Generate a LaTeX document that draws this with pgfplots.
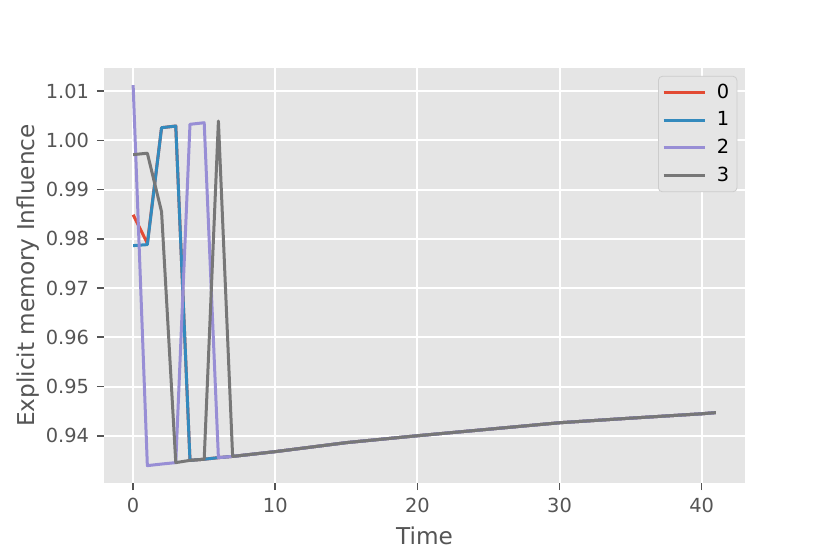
\documentclass[border=0pt]{standalone}
\usepackage{fontspec}
\setmainfont{DejaVu Sans}
\usepackage{pgfplots}
\pgfplotsset{compat=1.18}
\definecolor{ggbg}{HTML}{E5E5E5}
\definecolor{ggred}{HTML}{E24A33}
\definecolor{ggblue}{HTML}{348ABD}
\definecolor{ggpurple}{HTML}{988ED5}
\definecolor{gggrey}{HTML}{777777}
\definecolor{ggtext}{HTML}{555555}
\definecolor{ggedge}{HTML}{CCCCCC}
\begin{document}
\begin{tikzpicture}
\path[use as bounding box] (-52bp,-35.5bp) rectangle (363bp,241.5bp);
\begin{axis}[
  at={(0,0)}, anchor=south west,
  scale only axis, width=320.5bp, height=207.5bp,
  xmin=-2.05, xmax=43.05, ymin=0.9304, ymax=1.0147,
  axis background/.style={fill=ggbg},
  axis line style={draw=none},
  grid=major, major grid style={white, line width=1bp},
  tick align=outside, tick pos=left,
  major tick length=3.5bp,
  tick style={ggtext, line width=0.8bp},
  xtick={0,10,20,30,40},
  ytick={0.94,0.95,0.96,0.97,0.98,0.99,1.00,1.01},
  yticklabel style={xshift=-0.5bp, /pgf/number format/.cd, fixed, fixed zerofill, precision=2},
  /pgf/number format/assume math mode=true,
  ticklabel style={font=\fontsize{9.7bp}{11bp}\selectfont, text=ggtext},
  xticklabel style={yshift=-0.5bp},
  xlabel={Time}, ylabel={Explicit memory Influence},
  label style={font=\fontsize{11.6bp}{13bp}\selectfont, text=ggtext},
  xlabel style={at={(rel axis cs:0.5,0)}, anchor=north, yshift=-18.5bp},
  ylabel style={at={(rel axis cs:0,0.5)}, anchor=south, yshift=29bp},
  legend style={at={(rel axis cs:0.988,0.981)}, anchor=north east,
    fill=ggbg, draw=ggedge, rounded corners=2bp,
    font=\fontsize{9.7bp}{11bp}\selectfont, text=black,
    row sep=1.2bp, column sep=3.5bp, inner sep=1.8bp},
  legend cell align=left,
  legend image code/.code={\draw[#1] (0bp,0bp) -- (20.5bp,0bp);},
  every axis plot/.append style={line width=1.5bp, line join=round},
]
\addplot[ggred] coordinates {(0,0.98489)(1,0.97908)(2,1.00257)(3,1.00291)(4,0.93500)(5,0.93523)(6,0.93555)(7,0.93580)(10,0.93677)(15,0.93860)(20,0.94000)(25,0.94132)(30,0.94264)(35,0.94357)(40,0.94446)(41,0.94470)};
\addlegendentry{0}
\addplot[ggblue] coordinates {(0,0.97862)(1,0.97882)(2,1.00257)(3,1.00291)(4,0.93500)(5,0.93523)(6,0.93555)(7,0.93580)(10,0.93677)(15,0.93860)(20,0.94000)(25,0.94132)(30,0.94264)(35,0.94357)(40,0.94446)(41,0.94470)};
\addlegendentry{1}
\addplot[ggpurple] coordinates {(0,1.01121)(1,0.93393)(2,0.93425)(3,0.93454)(4,1.00326)(5,1.00358)(6,0.93555)(7,0.93580)(10,0.93677)(15,0.93860)(20,0.94000)(25,0.94132)(30,0.94264)(35,0.94357)(40,0.94446)(41,0.94470)};
\addlegendentry{2}
\addplot[gggrey] coordinates {(0,0.99710)(1,0.99739)(2,0.98550)(3,0.93454)(4,0.93500)(5,0.93523)(6,1.00393)(7,0.93580)(10,0.93677)(15,0.93860)(20,0.94000)(25,0.94132)(30,0.94264)(35,0.94357)(40,0.94446)(41,0.94470)};
\addlegendentry{3}
\end{axis}
\end{tikzpicture}
\end{document}
